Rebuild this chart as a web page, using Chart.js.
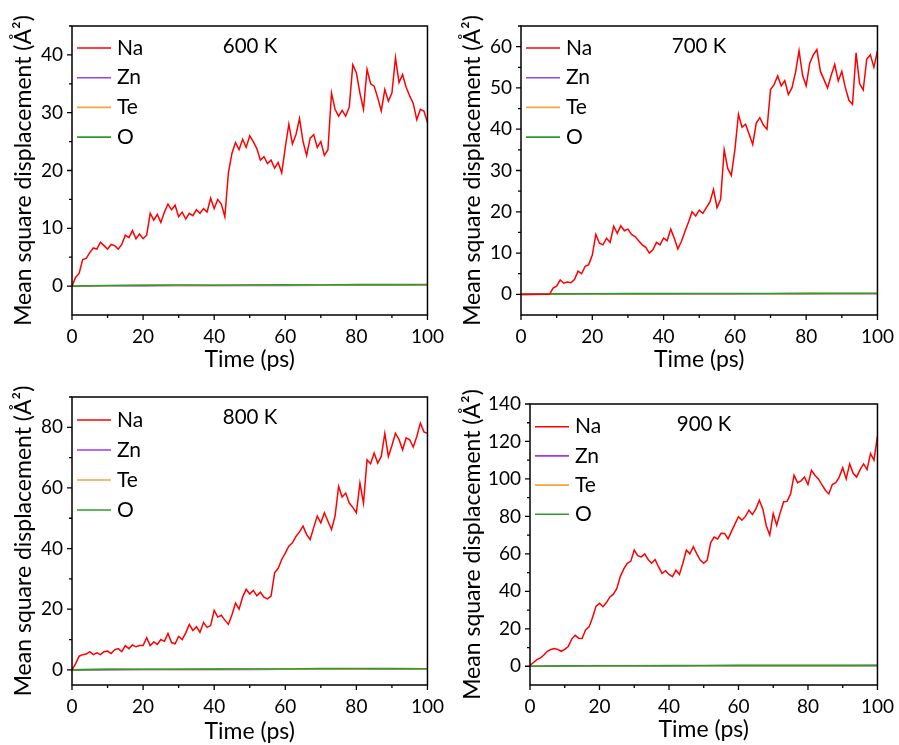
<!DOCTYPE html>
<html>
<head>
<meta charset="utf-8">
<script src="https://cdn.jsdelivr.net/npm/chart.js@4.4.1/dist/chart.umd.min.js"></script>
<style>
  body { margin: 0; background: #fff; }
  #wrap { position: relative; width: 899px; height: 745px; }
  canvas { position: absolute; }
</style>
</head>
<body>
<div id="wrap">
  <canvas id="c600" width="449" height="380" style="left:0;top:0"></canvas>
  <canvas id="c700" width="450" height="380" style="left:449px;top:0"></canvas>
  <canvas id="c800" width="449" height="365" style="left:0;top:380px"></canvas>
  <canvas id="c900" width="450" height="365" style="left:449px;top:380px"></canvas>
</div>
<script>
// sample times (ps)
const time = [0,1,2,3,4,5,6,7,8,9,10,11,12,13,14,15,16,17,18,19,20,21,22,23,24,25,26,27,28,29,30,
  31,32,33,34,35,36,37,38,39,40,41,42,43,44,45,46,47,48,49,50,51,52,53,54,55,56,57,58,59,60,
  61,62,63,64,65,66,67,68,69,70,71,72,73,74,75,76,77,78,79,80,81,82,83,84,85,86,87,88,89,90,
  91,92,93,94,95,96,97,98,99,100];
const lowTime = [0,10,20,30,40,50,60,70,80,90,100];

const elements = ['Na', 'Zn', 'Te', 'O'];
const colors = ['#ff0000', '#9a3cf0', '#f7a340', '#2f9a2f'];
const temps = ['600 K', '700 K', '800 K', '900 K'];

// axis ticks (all tick marks) and the ones that carry a label
const xTicks = [0,10,20,30,40,50,60,70,80,90,100];
const xLabels = [0,20,40,60,80,100];
const yTicks600 = [0,5,10,15,20,25,30,35,40,45];
const yLabels600 = [0,10,20,30,40];
const yTicks700 = [0,5,10,15,20,25,30,35,40,45,50,55,60,65];
const yLabels700 = [0,10,20,30,40,50,60];
const yTicks800 = [0,10,20,30,40,50,60,70,80,90];
const yLabels800 = [0,20,40,60,80];
const yTicks900 = [0,10,20,30,40,50,60,70,80,90,100,110,120,130,140];
const yLabels900 = [0,20,40,60,80,100,120,140];

// Na MSD (Å²)
const na600 = [0,1.5,2.2,4.6,4.8,5.8,6.6,6.4,7.6,7.0,
  6.4,7.2,7.0,6.4,7.2,8.8,8.4,9.6,8.2,9.0,
  8.2,8.8,12.6,11.4,12.4,11.0,12.8,14.2,13.2,14.0,
  12.0,12.8,11.6,12.6,12.2,13.2,12.6,13.4,12.8,15.2,
  13.4,15.0,14.2,12.0,19.6,23.0,24.8,23.6,25.4,24.0,
  26.0,25.0,23.8,21.8,22.4,21.2,21.8,20.4,21.4,19.6,
  24.0,28.0,24.6,26.2,29.0,25.0,22.6,25.6,26.2,24.0,
  25.0,22.6,23.6,33.4,30.6,29.4,30.4,29.4,31.0,38.3,
  36.9,33.4,30.6,37.5,35.0,34.6,32.6,30.3,34.0,32.0,
  33.4,39.5,35.2,36.6,34.4,32.9,31.6,28.8,30.6,30.3,
  28.3];
const na700 = [0,0,0,0,0,0,0,0,0,1.5,
  2.0,3.5,2.7,3.0,2.8,3.6,5.6,5.0,6.8,7.2,
  9.5,14.5,12.4,12.0,13.6,12.6,16.5,14.8,16.6,15.4,
  15.8,14.5,14.0,13.0,12.0,11.4,10.0,10.8,12.6,12.0,
  13.6,13.0,15.8,13.6,11.0,12.8,15.2,17.5,20.0,19.0,
  20.4,19.6,21.0,22.4,25.4,21.0,23.0,35.0,30.5,28.8,
  35.0,43.6,40.5,41.2,38.8,36.3,41.5,42.8,41.0,40.0,
  49.6,50.8,52.9,50.5,51.8,48.4,50.0,53.7,59.0,53.0,
  50.5,56.0,58.0,59.3,54.0,52.0,50.0,53.0,55.7,51.7,
  54.0,50.0,47.0,46.0,58.5,51.0,49.5,57.0,58.0,55.0,
  59.0];
const na800 = [0,2.0,4.5,5.0,5.2,6.0,5.0,5.6,5.0,6.0,
  6.2,5.4,6.6,7.0,6.0,8.0,7.0,8.2,7.6,8.0,
  8.0,10.6,8.0,9.2,8.4,10.0,9.4,12.0,9.0,8.6,
  11.0,10.0,12.2,15.0,13.0,14.2,12.4,15.6,14.0,14.6,
  19.6,17.4,18.0,16.4,15.0,18.2,22.0,20.0,24.0,26.6,
  25.0,26.2,24.4,25.6,24.0,23.4,24.3,32.0,33.5,36.4,
  38.5,40.8,41.9,44.0,45.5,47.4,44.6,43.0,47.0,50.7,
  48.5,51.8,49.0,46.3,50.7,60.5,57.0,58.3,55.0,53.6,
  51.8,61.6,55.0,69.3,68.0,71.5,68.2,70.4,78.0,70.4,
  74.0,78.0,76.0,72.6,76.5,75.9,73.5,77.0,81.4,78.5,
  78.0];
const na900 = [0.5,2.0,3.5,4.5,6.0,8.0,9.0,9.5,9.0,8.0,
  9.0,10.5,14.5,16.5,15.0,14.8,19.4,21.0,26.0,32.0,
  33.6,31.8,34.0,37.0,38.5,41.6,48.0,52.0,55.0,56.0,
  62.0,59.0,58.4,60.0,57.0,55.0,57.0,53.0,49.6,51.0,
  49.0,47.8,51.3,49.0,55.0,62.0,60.0,63.8,60.0,56.7,
  55.0,56.7,66.0,69.0,68.0,71.0,70.9,68.0,72.0,76.0,
  79.8,78.0,80.0,83.3,81.0,84.0,88.6,84.0,75.0,70.0,
  81.5,75.3,82.0,87.8,88.0,92.0,102.0,98.0,99.0,101.0,
  97.0,104.6,102.0,100.0,97.0,94.0,92.0,97.0,98.0,101.0,
  106.0,100.0,108.0,103.0,101.0,105.0,108.0,105.0,113.5,110.0,
  123.0];

// framework atoms stay near zero
const zn600 = [0,0.05,0.08,0.1,0.1,0.12,0.12,0.14,0.15,0.15,0.16];
const te600 = [0,0.06,0.1,0.12,0.12,0.14,0.15,0.16,0.18,0.18,0.2];
const o600  = [0,0.1,0.12,0.2,0.15,0.2,0.22,0.2,0.25,0.25,0.28];
const zn700 = [0,0.06,0.08,0.1,0.1,0.12,0.12,0.14,0.14,0.15,0.16];
const te700 = [0,0.07,0.1,0.12,0.13,0.14,0.15,0.16,0.17,0.18,0.2];
const o700  = [0,0.12,0.15,0.18,0.18,0.2,0.22,0.22,0.25,0.26,0.28];
const zn800 = [0,0.08,0.1,0.12,0.14,0.15,0.18,0.2,0.22,0.2,0.2];
const te800 = [0,0.1,0.12,0.15,0.16,0.18,0.2,0.25,0.28,0.26,0.25];
const o800  = [0,0.15,0.18,0.2,0.25,0.28,0.3,0.4,0.45,0.4,0.35];
const zn900 = [0,0.1,0.15,0.2,0.2,0.25,0.3,0.28,0.3,0.3,0.32];
const te900 = [0,0.12,0.18,0.22,0.25,0.3,0.35,0.32,0.35,0.35,0.38];
const o900  = [0,0.2,0.25,0.3,0.35,0.4,0.5,0.45,0.5,0.48,0.5];

Chart.defaults.font.family = 'Lato, "Open Sans", sans-serif';
Chart.defaults.color = '#000';

const pts = (xs, ys) => xs.map((x, i) => ({ x: x, y: ys[i] }));

// frame box + outward Origin-style ticks
const framePlugin = {
    id: 'frame',
    afterDraw(chart, args, opts) {
        const { ctx, chartArea: a, scales } = chart;
        ctx.save();
        ctx.strokeStyle = '#000';
        ctx.lineWidth = 1.5;
        ctx.strokeRect(a.left, a.top, a.right - a.left, a.bottom - a.top);
        ctx.lineWidth = 1.3;
        ctx.beginPath();
        scales.x.ticks.forEach((t) => {
            const px = scales.x.getPixelForValue(t.value);
            const len = opts.xLabels.includes(t.value) ? 5 : 3;
            ctx.moveTo(px, a.bottom);
            ctx.lineTo(px, a.bottom + len);
        });
        scales.y.ticks.forEach((t) => {
            const py = scales.y.getPixelForValue(t.value);
            const len = opts.yLabels.includes(t.value) ? 5 : 3;
            ctx.moveTo(a.left, py);
            ctx.lineTo(a.left - len, py);
        });
        ctx.stroke();
        ctx.restore();
    }
};

// legend and temperature label inside the plot
const insidePlugin = {
    id: 'inside',
    afterDraw(chart, args, opts) {
        const { ctx, chartArea: a } = chart;
        ctx.save();
        ctx.font = '21px Lato';
        ctx.textBaseline = 'middle';
        ctx.fillStyle = '#000';
        chart.data.datasets.forEach((ds, i) => {
            const y = a.top + opts.top + i * opts.gap;
            const x0 = a.left + 5;
            ctx.strokeStyle = ds.borderColor;
            ctx.lineWidth = 1.6;
            ctx.beginPath();
            ctx.moveTo(x0, y);
            ctx.lineTo(x0 + 34, y);
            ctx.stroke();
            ctx.textAlign = 'left';
            ctx.fillText(ds.label, x0 + 40, y);
        });
        ctx.font = '20.5px Lato';
        ctx.textAlign = 'center';
        ctx.fillText(opts.text, a.left + opts.tx, a.top + opts.ty);
        ctx.restore();
    }
};

const makeChart = (id, temp, na, zn, te, o, y, g) => {
    const series = [na, zn, te, o];
    const datasets = elements.map((el, i) => ({
        label: el,
        data: i === 0 ? pts(time, series[i]) : pts(lowTime, series[i]),
        borderColor: colors[i],
        borderWidth: i === 0 ? 1.5 : 1.6,
        pointRadius: 0,
        fill: false,
        tension: 0,
        order: [0, 3, 2, 1][i],
    }));

    return new Chart(document.getElementById(id), {
        type: 'line',
        data: { datasets: datasets },
        plugins: [framePlugin, insidePlugin],
        options: {
            responsive: false,
            animation: false,
            events: [],
            layout: { padding: { top: g.top, right: g.right, left: 0, bottom: 0 } },
            scales: {
                x: {
                    type: 'linear',
                    min: 0,
                    max: 100,
                    grid: { drawOnChartArea: false, color: 'rgba(0,0,0,0)', tickLength: 5 },
                    border: { display: false },
                    afterBuildTicks: (scale) => { scale.ticks = xTicks.map((v) => ({ value: v })); },
                    ticks: {
                        autoSkip: false,
                        maxRotation: 0,
                        padding: 5,
                        font: { size: 19 },
                        callback: (v) => (xLabels.includes(v) ? v : ''),
                    },
                    title: {
                        display: true,
                        text: 'Time (ps)',
                        font: { size: 23 },
                        padding: { top: 0, bottom: g.xTitlePad },
                    },
                    afterFit: (scale) => { scale.height = g.xAxisH; },
                },
                y: {
                    min: y.min,
                    max: y.max,
                    grid: { drawOnChartArea: false, color: 'rgba(0,0,0,0)', tickLength: 5 },
                    border: { display: false },
                    afterBuildTicks: (scale) => { scale.ticks = y.ticks.map((v) => ({ value: v })); },
                    ticks: {
                        autoSkip: false,
                        padding: 4,
                        font: { size: 19 },
                        callback: (v) => (y.labels.includes(v) ? v : ''),
                    },
                    title: {
                        display: true,
                        text: 'Mean square displacement (Å²)',
                        font: { size: 23 },
                        padding: { top: 10, bottom: 0 },
                    },
                    afterFit: (scale) => { scale.width = g.yAxisW; },
                },
            },
            plugins: {
                legend: { display: false },
                tooltip: { enabled: false },
                frame: { xLabels: xLabels, yLabels: y.labels },
                inside: { text: temp, top: g.legTop, gap: g.legGap, tx: g.tx, ty: 20 },
            },
        },
    });
};

makeChart('c600', temps[0], na600, zn600, te600, o600,
    { min: -5, max: 45, ticks: yTicks600, labels: yLabels600 },
    { top: 26, right: 19, yAxisW: 72, xAxisH: 65, xTitlePad: 7, legTop: 22, legGap: 29.7, tx: 178 });
makeChart('c700', temps[1], na700, zn700, te700, o700,
    { min: -5, max: 65, ticks: yTicks700, labels: yLabels700 },
    { top: 26, right: 20, yAxisW: 72, xAxisH: 65, xTitlePad: 7, legTop: 22, legGap: 29.7, tx: 178 });
makeChart('c800', temps[2], na800, zn800, te800, o800,
    { min: -5, max: 90, ticks: yTicks800, labels: yLabels800 },
    { top: 17, right: 20, yAxisW: 72, xAxisH: 60, xTitlePad: 0, legTop: 23, legGap: 30, tx: 178 });
makeChart('c900', temps[3], na900, zn900, te900, o900,
    { min: -10, max: 140, ticks: yTicks900, labels: yLabels900 },
    { top: 24, right: 19, yAxisW: 81, xAxisH: 60, xTitlePad: 2, legTop: 22.7, legGap: 29.2, tx: 174 });
</script>
</body>
</html>
